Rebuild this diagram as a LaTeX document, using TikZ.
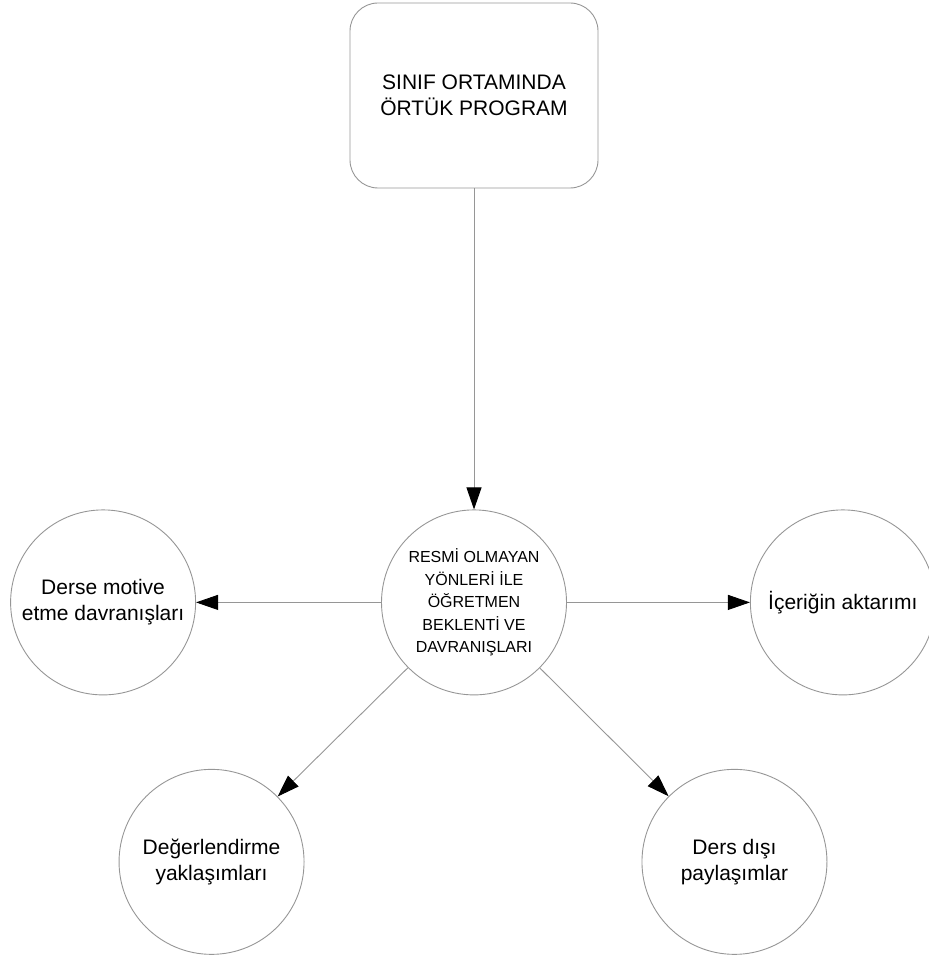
\documentclass[tikz,border=0pt]{standalone}
\usepackage{fontspec}
\setmainfont{Liberation Sans}
\usetikzlibrary{arrows.meta,positioning}
\definecolor{linegray}{RGB}{150,150,150}

\begin{document}
\begin{tikzpicture}[
  >={Triangle[length=22pt,width=15pt,color=black,fill=black]},
  prog/.style={draw=linegray, rectangle, rounded corners=28pt, line width=0.9pt,
               minimum width=248pt, minimum height=185pt,
               font=\fontsize{21}{26}\selectfont, align=center},
  hub/.style={draw=linegray, circle, line width=0.9pt, minimum size=185pt,
              inner sep=0pt, font=\fontsize{16}{22.5}\selectfont, align=center},
  leaf/.style={draw=linegray, circle, line width=0.9pt, minimum size=185pt,
               inner sep=0pt, font=\fontsize{21}{26}\selectfont, align=center},
  arr/.style={->, draw=linegray, line width=0.9pt}]

\useasboundingbox (0pt,0pt) rectangle (928pt,-957pt);

% Top: hidden curriculum box
\node[prog] (prog) at (474pt,-95.5pt) {SINIF ORTAMINDA\\ÖRTÜK PROGRAM};

% Hub circle below the box
\node[hub, below=321pt of prog] (hub)
  {RESMİ OLMAYAN\\YÖNLERİ İLE\\ÖĞRETMEN\\BEKLENTİ VE\\DAVRANIŞLARI};

% Outer circles round the hub
\node[leaf, left=185pt of hub]                   (motive) {Derse motive\\etme davranışları};
\node[leaf, right=183pt of hub]                  (icerik) {İçeriğin aktarımı};
\node[leaf, below left=128pt and 131pt of hub]   (degerl) {Değerlendirme\\yaklaşımları};
\node[leaf, below right=128pt and 129pt of hub]  (disi)   {Ders dışı\\paylaşımlar};

% Connectors
\draw[arr] (prog) -- (hub);
\draw[arr] (hub)  -- (motive);
\draw[arr] (hub)  -- (icerik);
\draw[arr] (hub)  -- (degerl);
\draw[arr] (hub)  -- (disi);
\end{tikzpicture}
\end{document}
